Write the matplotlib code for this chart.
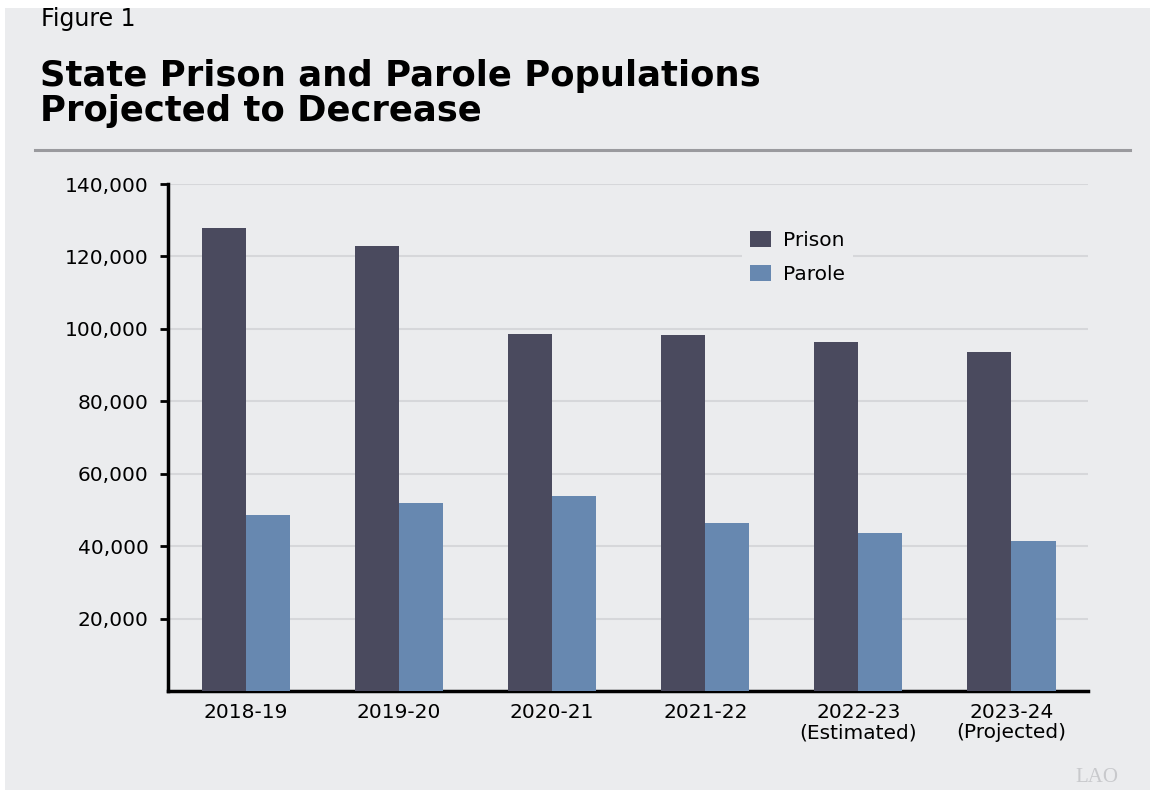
import numpy as np
import matplotlib.pyplot as plt
from matplotlib.patches import Rectangle

plt.rcParams["font.family"] = ["DejaVu Sans"]

# Population by fiscal year
years = ["2018-19", "2019-20", "2020-21", "2021-22",
         "2022-23\n(Estimated)", "2023-24\n(Projected)"]
prison = [127800, 122900, 98600, 98300, 96400, 93600]
parole = [48600, 51900, 53900, 46400, 43600, 41400]

bg = "#EBECEE"
prison_color = "#4A4A5E"
parole_color = "#6788B0"

W, H = 1156, 790
fig = plt.figure(figsize=(W / 100, H / 100), dpi=100, facecolor="white")
fig.patches.append(Rectangle((5 / W, 0), 1145 / W, 782 / H,
                             transform=fig.transFigure, facecolor=bg,
                             edgecolor="none", zorder=-10))

fig.text(41 / W, 1 - 26 / H, "Figure 1", fontsize=17, va="baseline", ha="left")
fig.text(40 / W, 1 - 86 / H, "State Prison and Parole Populations",
         fontsize=25.5, fontweight="bold", va="baseline", ha="left")
fig.text(40 / W, 1 - 121 / H, "Projected to Decrease",
         fontsize=25.5, fontweight="bold", va="baseline", ha="left")
fig.add_artist(plt.Line2D([35 / W, 1130 / W], [1 - 150 / H, 1 - 150 / H],
                          transform=fig.transFigure, color="#9A9A9E", lw=2.2))

ax = fig.add_axes([168 / W, 99 / H, 920 / W, 507 / H])
ax.set_facecolor(bg)

x = np.arange(len(years))
w = 0.288
ax.bar(x - w / 2, prison, w, color=prison_color, label="Prison", zorder=3)
ax.bar(x + w / 2, parole, w, color=parole_color, label="Parole", zorder=3)

ax.set_xlim(-0.51, 5.5)
ax.set_ylim(0, 140000)
yticks = list(range(20000, 140001, 20000))
ax.set_yticks(yticks)
ax.set_yticklabels([f"{v:,}" for v in yticks], fontsize=14.5)
ax.set_xticks(x)
ax.set_xticklabels(years, fontsize=14.5, linespacing=1.05)
ax.tick_params(axis="x", length=0, pad=9)
ax.tick_params(axis="y", length=6, width=2, direction="out", pad=8)
ax.grid(axis="y", color="#D6D7DA", lw=1.5, zorder=0)

for side in ["top", "right"]:
    ax.spines[side].set_visible(False)
for side in ["left", "bottom"]:
    ax.spines[side].set_linewidth(2.5)
    ax.spines[side].set_color("black")

leg = ax.legend(loc="upper left", bbox_to_anchor=(0.613, 0.943), fontsize=14.5,
                frameon=True, facecolor=bg, edgecolor="none", framealpha=1,
                handlelength=1.05, handleheight=0.8, handletextpad=0.6,
                labelspacing=0.75, borderpad=0.4, fancybox=False)
leg.set_zorder(5)

fig.text(1075 / W, 1 - 782 / H, "LAO", fontsize=15, color="#C8C9CC",
         family="Liberation Serif", va="baseline", ha="left")

fig.savefig("out.png", dpi=100, facecolor=fig.get_facecolor())
